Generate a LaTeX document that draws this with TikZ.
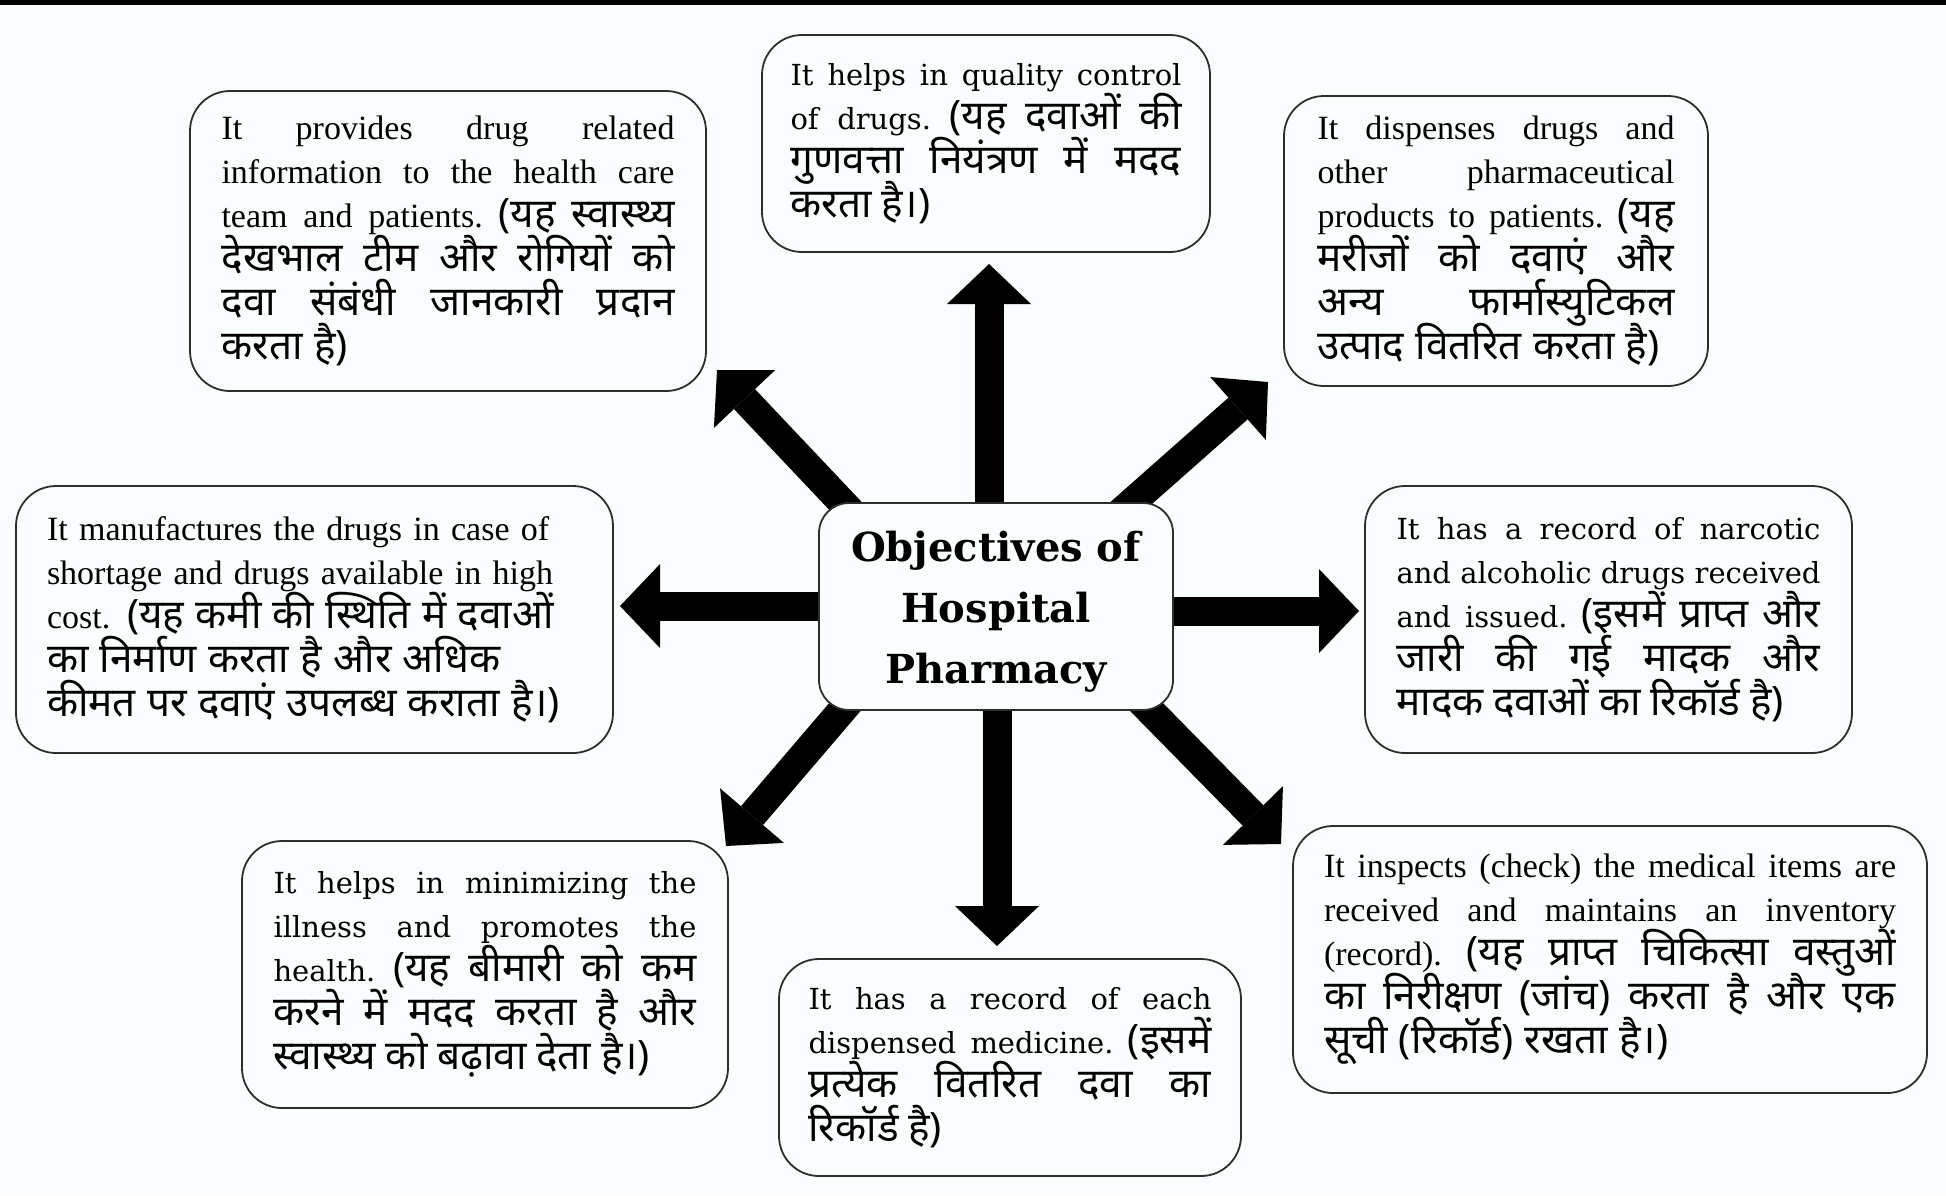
\documentclass[tikz,border=0pt]{standalone}
\usepackage{fontspec}
\setmainfont{Liberation Serif}
\newfontfamily\tms{Liberation Serif}
\newfontfamily\djv{DejaVu Serif}
\newfontfamily\hin[Script=Devanagari]{Noto Sans}
\usetikzlibrary{arrows.meta,backgrounds}
\definecolor{pagebg}{RGB}{249,253,254}
\definecolor{edge}{RGB}{45,45,45}
\newlength\boxtw
\newcommand\hd[1]{{\hin\fontsize{40.5}{44}\selectfont #1}}
\newcommand\jl[1]{\leavevmode\hbox to\boxtw{\spaceskip=0.25em plus 1fil minus 0.1em\xspaceskip=\spaceskip\relax #1}}
\tikzset{
  objbox/.style={draw=edge, line width=1.8pt, rounded corners=40pt, inner sep=0pt, align=left},
  tw/.style={text width=#1, execute at begin node={\setlength{\boxtw}{#1}}},
  tmsfont/.style={font={\tms\fontsize{34}{44}\selectfont\lineskiplimit=-200pt\lineskip=0pt}},
  djvfont/.style={font={\djv\fontsize{29}{44}\selectfont\lineskiplimit=-200pt\lineskip=0pt}},
  blk/.style={line width=29pt, draw=black, -{Triangle[length=40pt,width=84pt,line width=0pt]}}
}
\begin{document}
\begin{tikzpicture}[x=1pt,y=-1pt]
\useasboundingbox (0,0) rectangle (1946,1195);
\begin{pgfonlayer}{background}
\fill[pagebg] (0,0) rectangle (1946,1195);
\end{pgfonlayer}
\fill[black] (0,0) rectangle (1946,5);

% centre
\node[objbox, rounded corners=30pt, fill=pagebg, minimum width=354pt, minimum height=207pt] (C) at (996,606.5) {};
\node[align=center, inner sep=0pt, font={\djv\bfseries\fontsize{40}{61}\selectfont}] (title) at (996,611.5) {Objectives of\\Hospital\\Pharmacy};

% boxes
\node[objbox, tmsfont, minimum width=516pt, minimum height=300pt, tw=453pt] (b1) at (448,241)
 {\jl{It provides drug related}\\
  \jl{information to the health care}\\
  \jl{team and patients. \hd{(यह स्वास्थ्य}}\\
  \jl{\hd{देखभाल टीम और रोगियों को}}\\
  \jl{\hd{दवा संबंधी जानकारी प्रदान}}\\
  \hd{करता है)}};

\node[objbox, djvfont, minimum width=448pt, minimum height=217pt, tw=391pt] (b2) at (986,143.5)
 {\jl{It helps in quality control}\\
  \jl{of drugs. \hd{(यह दवाओं की}}\\
  \jl{\hd{गुणवत्ता नियंत्रण में मदद}}\\
  \hd{करता है।)}};

\node[objbox, tmsfont, minimum width=424pt, minimum height=290pt, tw=357pt] (b3) at (1496,241)
 {\jl{It dispenses drugs and}\\
  \jl{other pharmaceutical}\\
  \jl{products to patients. \hd{(यह}}\\
  \jl{\hd{मरीजों को दवाएं और}}\\
  \jl{\hd{अन्य फार्मास्युटिकल}}\\
  \hd{उत्पाद वितरित करता है)}};

\node[objbox, tmsfont, minimum width=597pt, minimum height=267pt, tw=535pt] (b4) at (314.5,619.5)
 {It manufactures the drugs in case of\\
  shortage and drugs available in high\\
  cost. \hd{(यह कमी की स्थिति में दवाओं}\\
  \hd{का निर्माण करता है और अधिक}\\
  \hd{कीमत पर दवाएं उपलब्ध कराता है।)}};

\node[objbox, djvfont, minimum width=487pt, minimum height=267pt, tw=424pt] (b5) at (1608.5,619.5)
 {\jl{It has a record of narcotic}\\
  \jl{and alcoholic drugs received}\\
  \jl{and issued. \hd{(इसमें प्राप्त और}}\\
  \jl{\hd{जारी की गई मादक और}}\\
  \hd{मादक दवाओं का रिकॉर्ड है)}};

\node[objbox, djvfont, minimum width=486pt, minimum height=267pt, tw=423pt] (b6) at (485,974.5)
 {\jl{It helps in minimizing the}\\
  \jl{illness and promotes the}\\
  \jl{health. \hd{(यह बीमारी को कम}}\\
  \jl{\hd{करने में मदद करता है और}}\\
  \hd{स्वास्थ्य को बढ़ावा देता है।)}};

\node[objbox, djvfont, minimum width=462pt, minimum height=217pt, tw=403pt] (b7) at (1010,1067.5)
 {\jl{It has a record of each}\\
  \jl{dispensed medicine. \hd{(इसमें}}\\
  \jl{\hd{प्रत्येक वितरित दवा का}}\\
  \hd{रिकॉर्ड है)}};

\node[objbox, tmsfont, minimum width=634pt, minimum height=267pt, tw=572pt] (b8) at (1610,959.5)
 {\jl{It inspects (check) the medical items are}\\
  \jl{received and maintains an inventory}\\
  \jl{(record). \hd{(यह प्राप्त चिकित्सा वस्तुओं}}\\
  \jl{\hd{का निरीक्षण (जांच) करता है और एक}}\\
  \hd{सूची (रिकॉर्ड) रखता है।)}};

% arrow ends
\coordinate (sU)  at (989,600);  \coordinate (tU)  at (989,264);
\coordinate (sD)  at (997,600);  \coordinate (tD)  at (997,946);
\coordinate (sL)  at (996,606);  \coordinate (tL)  at (620,606);
\coordinate (sR)  at (996,611);  \coordinate (tR)  at (1359,611);
\coordinate (sUL) at (923,588);  \coordinate (tUL) at (717,370);
\coordinate (sUR) at (1043,581); \coordinate (tUR) at (1268,382);
\coordinate (sLL) at (921,618);  \coordinate (tLL) at (726,846);
\coordinate (sLR) at (1071,630); \coordinate (tLR) at (1281,844);
\begin{pgfonlayer}{background}
\foreach \a in {U,D,L,R,UL,UR,LL,LR}{\draw[blk] (s\a) -- (t\a);}
\end{pgfonlayer}
\end{tikzpicture}
\end{document}
